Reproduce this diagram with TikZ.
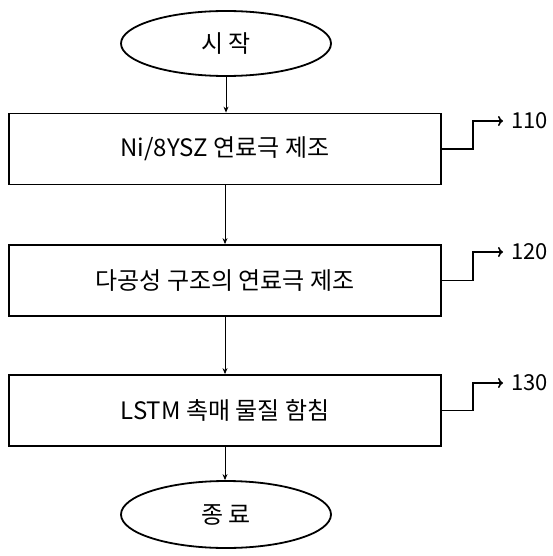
\documentclass[tikz,border=0pt]{standalone}
\usepackage{fontspec}
\setmainfont{Noto Sans CJK KR}
\usetikzlibrary{shapes.geometric,arrows.meta}
\tikzset{
  stepbox/.style={draw, line width=1.8pt, minimum width=432pt, minimum height=71pt, inner sep=0pt, font=\fontsize{24}{28}\selectfont},
  term/.style={draw, ellipse, line width=1.8pt, minimum width=210pt, minimum height=65pt, inner sep=0pt, font=\fontsize{24}{28}\selectfont},
  flow/.style={line width=0.9pt, -{Stealth[length=6pt,width=5pt]}},
  lead/.style={line width=1.6pt, -{To[length=5pt,width=10pt,line width=1.6pt]}},
  reflabel/.style={anchor=west, inner sep=0pt, font=\fontsize{22}{26}\selectfont}
}
\begin{document}
\begin{tikzpicture}[x=1pt,y=-1pt]
\useasboundingbox (0,0) rectangle (553,556);
\node[term] (start) at (226,43.5) {시 작};
\node[stepbox] (b1) at (225,149) {Ni/8YSZ 연료극 제조};
\node[stepbox] (b2) at (225,280.5) {다공성 구조의 연료극 제조};
\node[stepbox] (b3) at (225,410.5) {LSTM 촉매 물질 함침};
\node[term, minimum height=67pt] (end) at (226,514.5) {종 료};

\draw[flow] (start.south) -- (start.south |- b1.north);
\draw[flow] (b1.south) -- (b2.north);
\draw[flow] (b2.south) -- (b3.north);
\draw[flow] (b3.south) -- (b3.south |- end.north);

\node[reflabel] (l1) at (511,121) {110};
\node[reflabel] (l2) at (511,252) {120};
\node[reflabel] (l3) at (511,383) {130};
\coordinate (t1) at ([xshift=-8pt]l1.west);
\coordinate (t2) at ([xshift=-8pt]l2.west);
\coordinate (t3) at ([xshift=-8pt]l3.west);
\draw[lead] (b1.east) -- ++(31,0) |- (t1);
\draw[lead] (b2.east) -- ++(31,0) |- (t2);
\draw[lead] (b3.east) -- ++(31,0) |- (t3);
\end{tikzpicture}
\end{document}
